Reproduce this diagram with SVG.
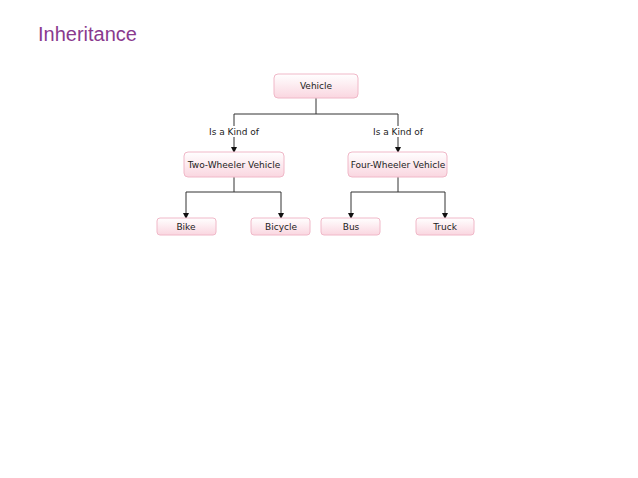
<svg xmlns="http://www.w3.org/2000/svg" width="638" height="478" viewBox="0 0 638 478">
<style>
.n rect{fill:url(#g);stroke:#f0b8c8;stroke-width:1}
.n text,.l{font-family:"DejaVu Sans",sans-serif;font-size:9px;fill:#222;text-anchor:middle}
.c path{fill:none;stroke:#333;stroke-width:1;marker-end:url(#a)}
.c path.p{marker-end:none}
</style>
<defs>
<linearGradient id="g" x1="0" y1="0" x2="0" y2="1"><stop offset="0" stop-color="#fff"/><stop offset="1" stop-color="#fad6e0"/></linearGradient>
<marker id="a" markerWidth="6" markerHeight="6" refX="5" refY="3" orient="auto" markerUnits="userSpaceOnUse"><path d="M0,0L6,3L0,6Z" fill="#111"/></marker>
</defs>
<rect width="638" height="478" fill="#fff"/>
<text x="38" y="41" font-family="Liberation Sans,sans-serif" font-size="20" fill="#8a3a8e">Inheritance</text>
<g class="c">
<path class="p" d="M316,98V114M234,114H398"/>
<path d="M234,114V152"/><path d="M398,114V152"/>
<path class="p" d="M234,177V192M186,192H281M398,177V192M351,192H445"/>
<path d="M186,192V218"/><path d="M281,192V218"/><path d="M351,192V218"/><path d="M445,192V218"/>
</g>
<rect x="195" y="126" width="78" height="11" fill="#fff"/><rect x="368" y="126" width="60" height="11" fill="#fff"/>
<text class="l" x="234" y="135">Is a Kind of</text>
<text class="l" x="398" y="135">Is a Kind of</text>
<g id="vehicle" class="n"><rect x="274" y="74" width="84" height="24" rx="4"/><text x="316" y="89">Vehicle</text></g>
<g id="two" class="n"><rect x="184" y="152" width="100" height="25" rx="4"/><text x="234" y="168">Two-Wheeler Vehicle</text></g>
<g id="four" class="n"><rect x="348" y="152" width="99" height="25" rx="4"/><text x="398" y="168">Four-Wheeler Vehicle</text></g>
<g id="bike" class="n"><rect x="157" y="218" width="59" height="17" rx="3"/><text x="186" y="230">Bike</text></g>
<g id="bicycle" class="n"><rect x="251" y="218" width="59" height="17" rx="3"/><text x="281" y="230">Bicycle</text></g>
<g id="bus" class="n"><rect x="321" y="218" width="59" height="17" rx="3"/><text x="351" y="230">Bus</text></g>
<g id="truck" class="n"><rect x="416" y="218" width="58" height="17" rx="3"/><text x="445" y="230">Truck</text></g>
</svg>
